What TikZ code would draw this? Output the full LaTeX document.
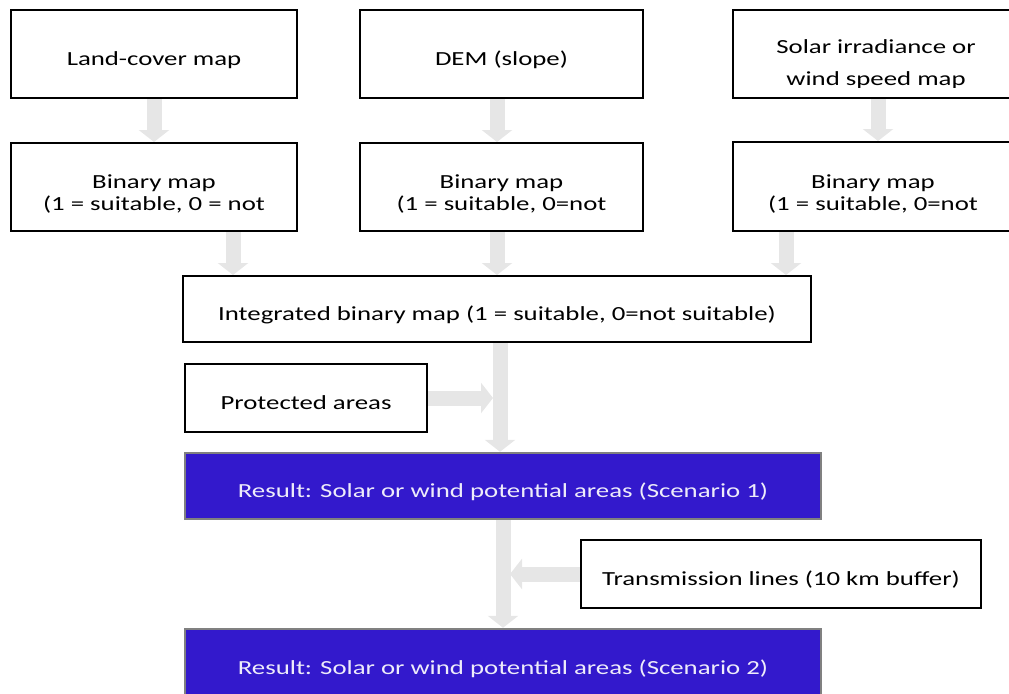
\documentclass[tikz,border=0pt]{standalone}
\usepackage{fontspec}
\setmainfont{Carlito}[FakeStretch=1.34]
\usetikzlibrary{arrows.meta}
\definecolor{arrowgray}{RGB}{230,230,230}
\definecolor{resblue}{RGB}{51,25,204}
\definecolor{resborder}{RGB}{128,128,128}
\definecolor{restext}{RGB}{238,236,250}
\newcommand\boxfont{\fontsize{15}{16.8}\selectfont}
\newcommand\widefont{\fontsize{15}{24}\selectfont}
\pgfdeclarelayer{bg}
\pgfsetlayers{bg,main}
\begin{document}
\begin{tikzpicture}[x=0.75pt,y=-0.75pt,
  txt/.style={align=center, font=\boxfont, inner sep=0pt},
  one/.style={text height=16.5pt, text depth=0pt},
  box/.style={txt, draw=black, line width=1.5pt, fill=white},
  resbox/.style={txt, draw=resborder, line width=1.8pt, fill=resblue, text=restext},
  flow/.style={draw=arrowgray, line width=11.25pt, -{Triangle[width=22.5pt,length=9pt]}}]
\useasboundingbox (0,0) rectangle (1009,693);
% top row
\node[box, one, minimum width=214.5pt, minimum height=66pt] (land) at (154,54) {Land-cover map};
\node[box, one, minimum width=212.25pt, minimum height=66pt] (dem) at (501.5,54) {DEM (slope)};
\node[box, minimum width=210pt, minimum height=66pt] (solar) at (873,54) {};
\begin{scope}
  \clip (733,11) rectangle (1009,87);
  \node[txt, font=\widefont] (solartext) at (876,64) {Solar irradiance or\\wind speed map};
\end{scope}
% binary maps
\node[box, minimum width=214.5pt, minimum height=66pt] (bin1) at (154,187) {};
\node[box, minimum width=212.25pt, minimum height=66pt] (bin2) at (501.5,187) {};
\node[box, minimum width=210pt, minimum height=66.75pt] (bin3) at (873,186.5) {};
\node[txt] (bin1text) at (154,194) {Binary map\\(1 = suitable, 0 = not};
\node[txt] (bin2text) at (501.5,194) {Binary map\\(1 = suitable, 0=not};
\node[txt] (bin3text) at (873,194) {Binary map\\(1 = suitable, 0=not};
% integrated
\node[box, one, minimum width=471pt, minimum height=49.5pt] (integ) at (497,309) {Integrated binary map (1 = suitable, 0=not suitable)};
\node[box, one, minimum width=181.5pt, minimum height=51pt] (prot) at (306,398) {Protected areas};
\node[resbox, one, minimum width=477pt, minimum height=49.5pt] (res1) at (503,486) {Result: Solar or wind potential areas (Scenario 1)};
\node[box, one, minimum width=300pt, minimum height=51pt] (trans) at (781,574) {Transmission lines (10 km buffer)};
\node[resbox, one, minimum width=477pt, minimum height=51pt] (res2) at (503,663) {Result: Solar or wind potential areas (Scenario 2)};
\coordinate (pjoin) at (493,398);
\coordinate (tjoin) at (510,574);
\begin{pgfonlayer}{bg}
\draw[flow] (land.south) -- (bin1.north);
\draw[flow] (497,0 |- dem.south) -- (497,0 |- bin2.north);
\draw[flow] (878,0 |- solar.south) -- (878,0 |- bin3.north);
\draw[flow] (233,0 |- bin1.south) -- (233,0 |- integ.north);
\draw[flow] (497,0 |- bin2.south) -- (497,0 |- integ.north);
\draw[flow] (786,0 |- bin3.south) -- (786,0 |- integ.north);
\draw[flow] (500,0 |- integ.south) -- (500,0 |- res1.north);
\draw[flow] (prot.east) -- (pjoin);
\draw[flow] (res1.south) -- (res2.north);
\draw[flow] (trans.west) -- (tjoin);
\end{pgfonlayer}
\end{tikzpicture}
\end{document}
